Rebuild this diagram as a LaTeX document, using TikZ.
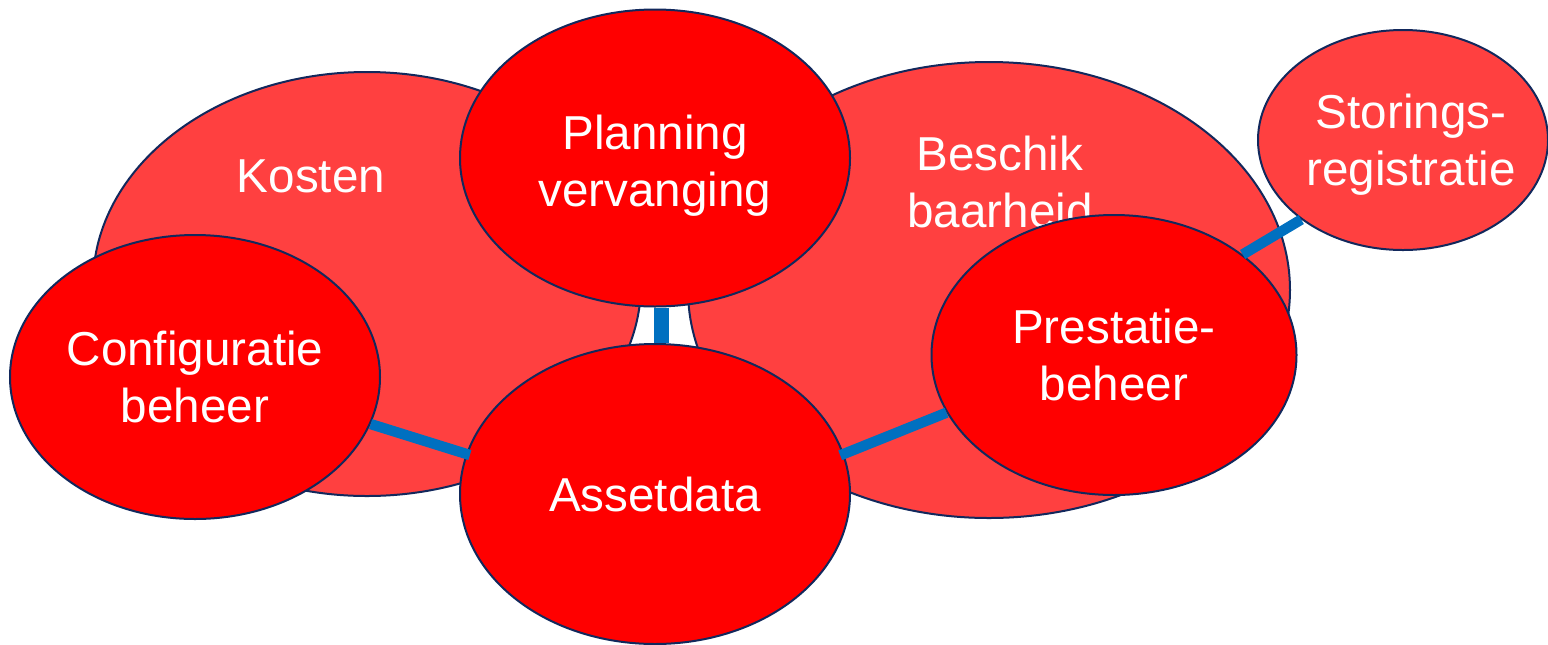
\documentclass[tikz,border=0pt]{standalone}
\usepackage{fontspec}
\setmainfont{Liberation Sans}
\usepackage{xcolor}
\usetikzlibrary{shapes.geometric}

\definecolor{lightred}{RGB}{255,64,64}
\definecolor{fullred}{RGB}{255,0,0}
\definecolor{rimblue}{RGB}{18,40,92}
\definecolor{linkblue}{RGB}{0,112,192}

\tikzset{
  blob/.style={ellipse, draw=rimblue, line width=1pt, fill=lightred, inner sep=0pt,
               text=white, align=center, font=\fontsize{23.8}{28.5}\selectfont},
  core/.style={blob, fill=fullred},
  txt/.style={text=white, align=center, font=\fontsize{23.8}{28.5}\selectfont},
  link/.style={draw=linkblue, line width=5.2pt},
}

\begin{document}
\begin{tikzpicture}[x=0.5pt, y=-0.5pt]
                  \useasboundingbox (0, 0) rectangle (1548, 644);

                  % big areas
                  \node[blob, minimum width=274pt, minimum height=212pt] (kosten) at (367, 284) {};
                  \node[blob, minimum width=301pt, minimum height=228pt] (besch) at (989, 290) {};
                  \node[txt] (kostentxt) at (311, 176) {Kosten};
                  \node[txt] (beschtxt) at (1000, 182) {Beschik\\baarheid};

                  % processes
                  \node[core, minimum width=195pt, minimum height=148.5pt] (plan) at (655, 158) {};
                  \node[txt] (plantxt) at ([yshift=-4pt]plan.center) {Planning\\vervanging};
                  \node[core, minimum width=185pt, minimum height=142pt] (conf) at (195, 377) {Configuratie\\beheer};
                  \node[core, minimum width=195pt, minimum height=150pt] (asset) at (655, 494) {Assetdata};
                  \node[core, minimum width=182.5pt, minimum height=140pt] (pres) at (1114, 355) {Prestatie-\\beheer};
                  \node[blob, minimum width=145pt, minimum height=110pt] (stor) at (1403, 140) {};
                  \node[txt] (stortxt) at ([xshift=4pt, yshift=-2.5pt]stor.center) {Storings-\\registratie};

                  % links
                  \draw[link, line width=7.5pt] ([xshift=3pt]plan.south) -- ([xshift=3pt]asset.north);
                  \draw[link, shorten >=-2pt] (conf.-15) -- (asset.168);
                  \draw[link, shorten <=-2pt] (asset.12) -- (pres.199);
                  \draw[link] (pres.38) -- (stor.218);
              \end{tikzpicture}
\end{document}
